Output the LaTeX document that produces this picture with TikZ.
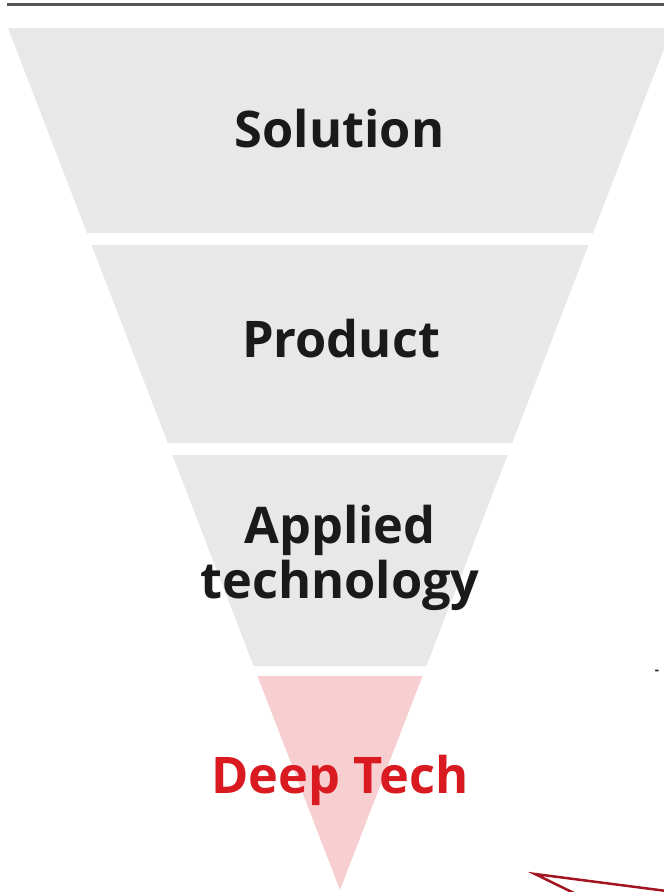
\documentclass[tikz,border=0pt]{standalone}
\usepackage{fontspec}
\setsansfont{Open Sans}
\definecolor{bandgray}{HTML}{E8E8E8}
\definecolor{bandpink}{HTML}{F8CFD0}
\definecolor{textdark}{HTML}{1A1A1A}
\definecolor{techred}{HTML}{D91A21}
\definecolor{calloutred}{HTML}{A31420}
\definecolor{rulegray}{HTML}{555555}

\begin{document}
\begin{tikzpicture}[x=1pt, y=-1pt,
    band/.style={fill=bandgray, draw=none},
    layer/.style={font=\sffamily\bfseries\fontsize{50.5}{55}\selectfont,
        text=textdark, anchor=base, inner sep=0pt}]
    \useasboundingbox (0,0) rectangle (664,892);

    \draw[rulegray, line width=2.5pt] (7,4.7) -- (664,4.7);

    \fill[band] (8,28) -- (672,28) -- (593.1,233) -- (86.9,233) -- cycle;
    \fill[band] (91.5,245) -- (588.5,245) -- (512.2,443) -- (167.8,443) -- cycle;
    \fill[band] (172.4,455) -- (507.6,455) -- (426.4,666) -- (253.6,666) -- cycle;
    \fill[bandpink] (257.5,676) -- (422.5,676) -- (340,890) -- cycle;

    \node[layer] (solution) at (339.5,147) {Solution};
    \node[layer] (product) at (341,357) {Product};
    \node[layer] (applied) at (340,543) {Applied};
    \node[layer] (technology) at (340,598) {technology};
    \node[layer, text=techred] (deeptech) at (340,793) {Deep Tech};

    \node[font=\sffamily\bfseries\fontsize{13}{13}\selectfont, text=textdark, inner sep=0pt] (dash) at (657,672) {-};

    \draw[calloutred, line width=2.5pt, line join=miter] (580,896) -- (535,874) -- (690,894);
\end{tikzpicture}
\end{document}
